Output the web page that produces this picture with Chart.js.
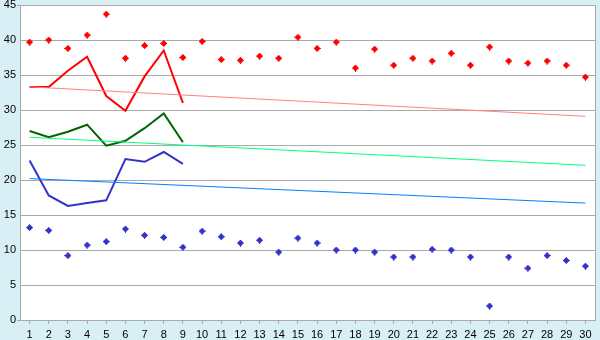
<!DOCTYPE html>
<html>
<head>
<meta charset="utf-8">
<script src="https://cdn.jsdelivr.net/npm/chart.js@4"></script>
<style>
  html, body { margin: 0; padding: 0; background: #d9eff6; }
  #wrap { width: 600px; height: 340px; }
</style>
</head>
<body>
<div id="wrap"><canvas id="chart" width="600" height="340"></canvas></div>
<script>
const labels = ['1','2','3','4','5','6','7','8','9','10','11','12','13','14','15',
  '16','17','18','19','20','21','22','23','24','25','26','27','28','29','30'];
const yTicks = [0, 5, 10, 15, 20, 25, 30, 35, 40, 45];

const redPoints = [39.7, 40.0, 38.8, 40.7, 43.7, 37.4, 39.2, 39.5, 37.5, 39.8,
  37.2, 37.1, 37.7, 37.4, 40.4, 38.8, 39.7, 36.0, 38.7, 36.4,
  37.4, 37.0, 38.1, 36.4, 39.0, 37.0, 36.7, 37.0, 36.4, 34.7];
const bluePoints = [13.2, 12.8, 9.2, 10.7, 11.2, 13.0, 12.1, 11.8, 10.4, 12.7,
  11.9, 11.0, 11.4, 9.7, 11.7, 11.0, 10.0, 10.0, 9.7, 9.0,
  9.0, 10.1, 10.0, 9.0, 2.0, 9.0, 7.4, 9.2, 8.5, 7.7];

const redLine = [33.3, 33.3, 35.6, 37.6, 32.0, 29.9, 34.8, 38.5, 31.0];
const greenLine = [27.0, 26.1, 26.9, 27.9, 24.9, 25.6, 27.4, 29.5, 25.4];
const blueLine = [22.8, 17.8, 16.3, 16.7, 17.1, 23.0, 22.6, 24.0, 22.3];

// trend lines: value at first and last category
const redTrend = [33.3, 29.1];
const greenTrend = [26.1, 22.1];
const blueTrend = [20.2, 16.7];

function trendData(ends) {
  const d = labels.map(() => null);
  d[0] = ends[0];
  d[labels.length - 1] = ends[1];
  return d;
}

function plusMarker(color) {
  const c = document.createElement('canvas');
  c.width = 7; c.height = 7;
  const g = c.getContext('2d');
  g.fillStyle = color;
  g.fillRect(3, 0, 1, 7);
  g.fillRect(0, 3, 7, 1);
  g.fillRect(2, 1, 3, 5);
  g.fillRect(1, 2, 5, 3);
  return c;
}

const plotBg = {
  id: 'plotBg',
  beforeDraw(chart) {
    const { ctx, chartArea: a } = chart;
    ctx.save();
    ctx.fillStyle = '#ffffff';
    ctx.fillRect(a.left, a.top, a.right - a.left, a.bottom - a.top);
    ctx.restore();
  },
  afterDraw(chart) {
    const { ctx, chartArea: a } = chart;
    const y = chart.scales.y;
    ctx.save();
    ctx.strokeStyle = '#aaaaaa';
    ctx.lineWidth = 1;
    ctx.beginPath();
    ctx.moveTo(Math.round(a.right) + 0.5, a.top);
    ctx.lineTo(Math.round(a.right) + 0.5, a.bottom);
    // small ticks at the ends of the value axis
    for (const v of [yTicks[0], yTicks[yTicks.length - 1]]) {
      const py = Math.round(y.getPixelForValue(v)) + 0.5;
      ctx.moveTo(a.left - 3, py);
      ctx.lineTo(a.left, py);
    }
    ctx.stroke();
    ctx.restore();
  }
};

const lineDs = (label, data, color, width) => ({
  label, data, borderColor: color, backgroundColor: color,
  borderWidth: width, pointRadius: 0, tension: 0, fill: false
});

new Chart(document.getElementById('chart').getContext('2d'), {
  type: 'line',
  data: {
    labels: labels,
    datasets: [
      { label: 'red pts', data: redPoints, showLine: false,
        pointStyle: plusMarker('#ff0000'), pointRadius: 3.5 },
      { label: 'blue pts', data: bluePoints, showLine: false,
        pointStyle: plusMarker('#3333cc'), pointRadius: 3.5 },
      Object.assign(lineDs('red trend', trendData(redTrend), '#ff8080', 1), { spanGaps: true }),
      Object.assign(lineDs('green trend', trendData(greenTrend), '#00ff80', 1), { spanGaps: true }),
      Object.assign(lineDs('blue trend', trendData(blueTrend), '#0080ff', 1), { spanGaps: true }),
      lineDs('red', redLine, '#ff0000', 2),
      lineDs('green', greenLine, '#006400', 2),
      lineDs('blue', blueLine, '#3333cc', 2)
    ]
  },
  options: {
    responsive: false,
    animation: false,
    layout: { padding: { top: 5, right: 5, left: 0, bottom: 0 } },
    plugins: {
      legend: { display: false },
      tooltip: { enabled: false }
    },
    scales: {
      x: {
        offset: true,
        grid: { display: true, drawOnChartArea: false, drawTicks: true,
          tickLength: 4, color: '#aaaaaa', offset: false },
        border: { color: '#aaaaaa' },
        ticks: { color: '#000000', padding: 4, maxRotation: 0, autoSkip: false,
          font: { family: 'Liberation Sans', size: 11 } },
        afterFit(s) { s.height = 20; s.paddingLeft = 0; s.paddingRight = 0; }
      },
      y: {
        min: 0, max: 45,
        afterBuildTicks(s) { s.ticks = yTicks.map(v => ({ value: v })); },
        grid: { color: '#aaaaaa', drawTicks: false },
        border: { color: '#aaaaaa' },
        ticks: { color: '#000000', padding: 4,
          font: { family: 'Liberation Sans', size: 11 } },
        afterFit(s) { s.width = 20; s.paddingTop = 0; s.paddingBottom = 0; }
      }
    }
  },
  plugins: [plotBg]
});
</script>
</body>
</html>
